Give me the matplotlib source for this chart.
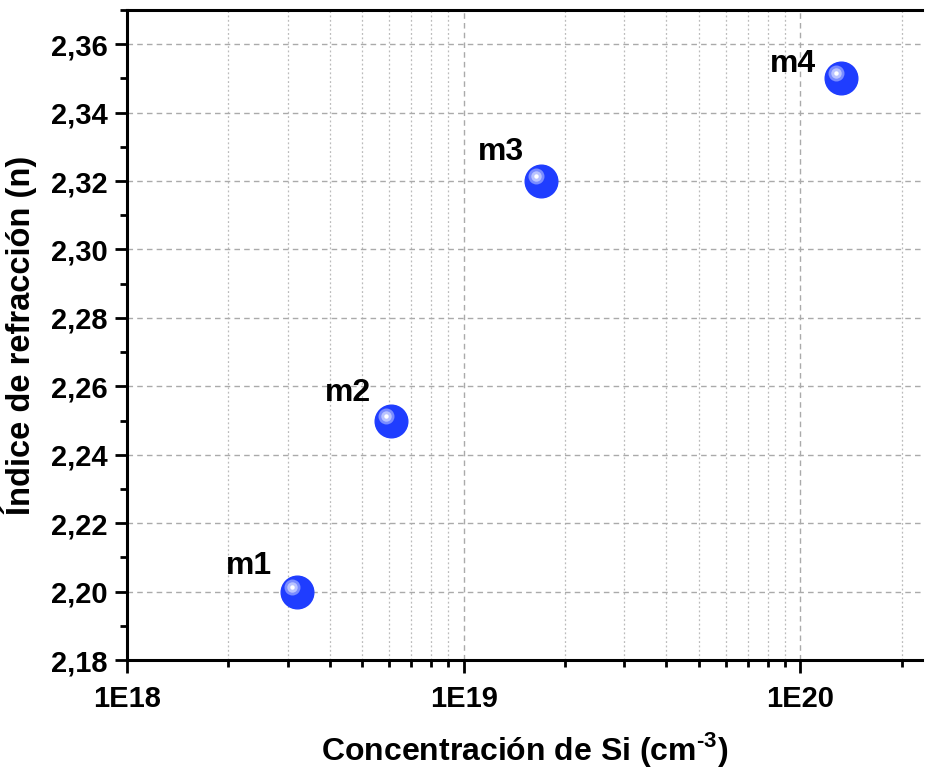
import math
import matplotlib
matplotlib.use("Agg")
import matplotlib.pyplot as plt
import matplotlib.transforms as mtransforms
from matplotlib.ticker import LogLocator, MultipleLocator, FuncFormatter, NullFormatter

# Data
samples = ["m1", "m2", "m3", "m4"]
si_conc = [3.2e18, 6.1e18, 1.7e19, 1.32e20]
refr_index = [2.20, 2.25, 2.32, 2.35]
label_offsets = [(-25, 11), (-20, 13), (-17, 14), (-25, -1)]  # pixels, right/bottom anchor

plt.rcParams['font.family'] = ['Liberation Sans', 'DejaVu Sans']
plt.rcParams['font.weight'] = 'bold'
plt.rcParams['mathtext.fontset'] = 'custom'
plt.rcParams['mathtext.rm'] = 'Liberation Sans:bold'
plt.rcParams['mathtext.bf'] = 'Liberation Sans:bold'

fig = plt.figure(figsize=(9.25, 7.68), dpi=100)
ax = fig.add_axes([0.1373, 0.1406, 0.8595, 0.8464])

ax.set_xscale('log')
ax.set_xlim(1e18, 2.3e20)
ax.set_ylim(2.18, 2.37)

# Grid
ax.grid(which='major', axis='both', linestyle=(0, (4, 3)), color='#aaaaaa', linewidth=1.0, zorder=0)
ax.grid(which='minor', axis='x', linestyle=(0, (1.5, 2)), color='#bbbbbb', linewidth=0.9, zorder=0)
ax.set_axisbelow(True)

# Spheres: base disc plus offset highlights
base = '#1f3dff'
ax.plot(si_conc, refr_index, 'o', ms=23.5, color=base, mec=base, zorder=3)
hl = mtransforms.offset_copy(ax.transData, fig=fig, x=-5, y=5, units='dots')
ax.plot(si_conc, refr_index, 'o', ms=11.5, color='#7a8cff', mec='none', transform=hl, zorder=4)
ax.plot(si_conc, refr_index, 'o', ms=7.5, color='#b9c3ff', mec='none', transform=hl, zorder=5)
ax.plot(si_conc, refr_index, 'o', ms=3.2, color='white', mec='none', transform=hl, zorder=6)

for name, xv, yv, off in zip(samples, si_conc, refr_index, label_offsets):
    ax.annotate(name, (xv, yv), xytext=off, textcoords='offset pixels',
                ha='right', va='bottom', fontsize=23, fontweight='bold')

# Ticks
ax.yaxis.set_major_locator(MultipleLocator(0.02))
ax.yaxis.set_minor_locator(MultipleLocator(0.01))
ax.yaxis.set_major_formatter(FuncFormatter(lambda v, p: f"{v:.2f}".replace('.', ',')))
ax.xaxis.set_major_locator(LogLocator(base=10, numticks=10))
ax.xaxis.set_minor_locator(LogLocator(base=10, subs=range(2, 10), numticks=20))
ax.xaxis.set_major_formatter(FuncFormatter(lambda v, p: f"1E{int(round(math.log10(v)))}"))
ax.xaxis.set_minor_formatter(NullFormatter())

ax.tick_params(which='major', direction='out', length=9, width=2, labelsize=21, pad=5)
ax.tick_params(which='minor', direction='out', length=5, width=2)
ax.tick_params(axis='x', which='major', pad=9)

for s in ['left', 'bottom', 'top']:
    ax.spines[s].set_linewidth(2.2)
ax.spines['right'].set_visible(False)

ax.set_xlabel('Concentración de Si (cm$^{\\text{-3}}$)', fontsize=23, fontweight='bold', labelpad=12)
ax.set_ylabel('Índice de refracción (n)', fontsize=23.5, fontweight='bold', labelpad=10)

fig.savefig('out.png', dpi=100)
